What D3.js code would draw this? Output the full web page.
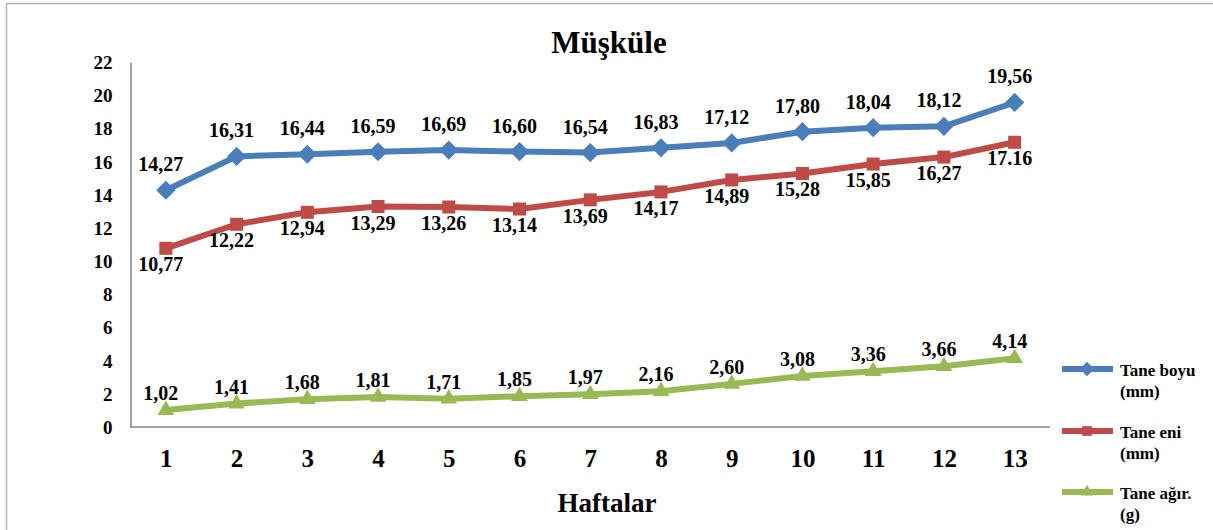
<!DOCTYPE html>
<html lang="tr">
<head>
<meta charset="utf-8">
<title>Müşküle</title>
<script src="https://cdn.jsdelivr.net/npm/d3@7"></script>
<style>
  html, body { margin: 0; padding: 0; background: #fff; }
  svg { display: block; }
  text { font-family: "Liberation Serif", "Times New Roman", "DejaVu Serif", serif; font-weight: bold; fill: #000; }
</style>
</head>
<body>
<svg id="chart" width="1213" height="530"></svg>
<script>
// Weeks on the x axis
const weeks = ["1", "2", "3", "4", "5", "6", "7", "8", "9", "10", "11", "12", "13"];

// Grain length (mm), as printed on the labels
const taneBoyu = ["14,27", "16,31", "16,44", "16,59", "16,69", "16,60", "16,54", "16,83", "17,12", "17,80", "18,04", "18,12", "19,56"];

// Grain width (mm)
const taneEni = ["10,77", "12,22", "12,94", "13,29", "13,26", "13,14", "13,69", "14,17", "14,89", "15,28", "15,85", "16,27", "17.16"];

// Grain weight (g)
const taneAgir = ["1,02", "1,41", "1,68", "1,81", "1,71", "1,85", "1,97", "2,16", "2,60", "3,08", "3,36", "3,66", "4,14"];

// Y axis ticks
const yTicks = [0, 2, 4, 6, 8, 10, 12, 14, 16, 18, 20, 22];

const seriesNames = [["Tane boyu", "(mm)"], ["Tane eni", "(mm)"], ["Tane ağır.", "(g)"]];

const toNumber = s => +s.replace(",", ".");

// Diamond drawn as a square turned by 45 degrees
const series = [
  { name: seriesNames[0], labels: taneBoyu, color: "#4A7EBB", marker: d3.symbolSquare, rotate: 45, size: 185, labelDy: -19 },
  { name: seriesNames[1], labels: taneEni,  color: "#BE4B48", marker: d3.symbolSquare, rotate: 0, size: 170, labelDy: 23 },
  { name: seriesNames[2], labels: taneAgir, color: "#98B954", marker: d3.symbolTriangle, rotate: 0, size: 120, labelDy: -10 }
];

const svg = d3.select("#chart");

// Outer frame (top and left edges)
svg.append("line").attr("x1", 6).attr("x2", 1213).attr("y1", 3.5).attr("y2", 3.5)
  .attr("stroke", "#b4b4b4").attr("stroke-width", 1.5);
svg.append("line").attr("x1", 6.5).attr("x2", 6.5).attr("y1", 3).attr("y2", 530)
  .attr("stroke", "#b4b4b4").attr("stroke-width", 1.5);

const plot = { left: 130.5, right: 1050, top: 62, bottom: 427 };

const x = d3.scalePoint().domain(weeks).range([plot.left, plot.right]).padding(0.5);
const y = d3.scaleLinear().domain([0, 22]).range([plot.bottom, plot.top]);

// Title
svg.append("text").attr("x", 609).attr("y", 53).attr("text-anchor", "middle")
  .style("font-size", "31px").text("Müşküle");

// Y axis
const yAxis = d3.axisLeft(y).tickValues(yTicks).tickSize(0).tickPadding(18).tickFormat(d3.format("d"));
const gy = svg.append("g").attr("transform", `translate(${plot.left},0)`).call(yAxis)
  .attr("font-family", null).attr("font-size", null);
gy.select(".domain").attr("stroke", "#868686").attr("stroke-width", 1.5);
gy.selectAll("text").style("font-size", "19px").attr("dy", "0.34em");

// X axis
const xAxis = d3.axisBottom(x).tickSize(0).tickPadding(22);
const gx = svg.append("g").attr("transform", `translate(0,${plot.bottom})`).call(xAxis)
  .attr("font-family", null).attr("font-size", null);
gx.select(".domain").attr("stroke", "#868686").attr("stroke-width", 1.5)
  .attr("d", `M${plot.left},0H${plot.right}`);
gx.selectAll("text").style("font-size", "25px").attr("dy", "0.71em");

// X axis title
svg.append("text").attr("x", 607).attr("y", 512).attr("text-anchor", "middle")
  .style("font-size", "27px").text("Haftalar");

const line = d3.line().x((d, i) => x(weeks[i])).y(d => y(d));

series.forEach(s => {
  const values = s.labels.map(toNumber);
  const g = svg.append("g");

  g.append("path").datum(values).attr("d", line)
    .attr("fill", "none").attr("stroke", s.color).attr("stroke-width", 6)
    .attr("stroke-linejoin", "round");

  g.selectAll("path.mark").data(values).join("path").attr("class", "mark")
    .attr("d", d3.symbol().type(s.marker).size(s.size))
    .attr("transform", (d, i) => `translate(${x(weeks[i])},${y(d)}) rotate(${s.rotate})`)
    .attr("fill", s.color);

  g.selectAll("text.lbl").data(values).join("text").attr("class", "lbl")
    .attr("x", (d, i) => x(weeks[i]) - 5)
    .attr("y", d => y(d) + s.labelDy)
    .attr("text-anchor", "middle")
    .style("font-size", "20px")
    .text((d, i) => s.labels[i]);
});

// Legend
const legendRows = [369, 431, 492];
series.forEach((s, k) => {
  const ly = legendRows[k];
  const g = svg.append("g");
  g.append("line").attr("x1", 1062).attr("x2", 1113).attr("y1", ly).attr("y2", ly)
    .attr("stroke", s.color).attr("stroke-width", 6);
  g.append("path").attr("d", d3.symbol().type(s.marker).size(s.size * 0.55))
    .attr("transform", `translate(1087,${ly}) rotate(${s.rotate})`).attr("fill", s.color);
  g.append("text").attr("x", 1120).attr("y", ly + 7).style("font-size", "17px").text(s.name[0]);
  g.append("text").attr("x", 1120).attr("y", ly + 28).style("font-size", "17px").text(s.name[1]);
});
</script>
</body>
</html>
